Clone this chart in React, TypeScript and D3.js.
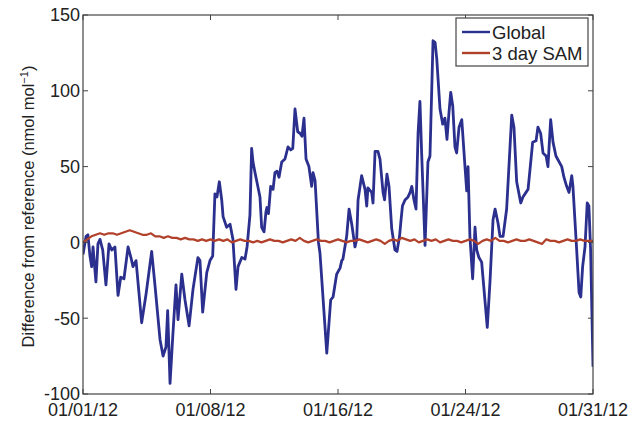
import React from "react";
import * as d3 from "d3";

// days since 01/01/12 00:00 and difference from reference (nmol/mol)
const globalDays = [
  0, 0.18, 0.29, 0.41, 0.51, 0.59, 0.76, 0.88, 1.0, 1.16, 1.35, 1.53, 1.69, 1.88,
  2.06, 2.22, 2.41, 2.65, 2.82, 2.94, 3.12, 3.45, 3.71, 4.04, 4.24, 4.53, 4.71,
  4.88, 4.98, 5.12, 5.28, 5.47, 5.59, 5.81, 6.0, 6.24, 6.47, 6.76, 6.88, 7.04,
  7.28, 7.47, 7.63, 7.76, 7.88, 8.02, 8.16, 8.24, 8.45, 8.65, 8.82, 9.0, 9.12,
  9.34, 9.53, 9.65, 9.82, 9.92, 10.0, 10.12, 10.41, 10.51, 10.65, 10.76, 10.82,
  10.91, 11.04, 11.18, 11.29, 11.41, 11.53, 11.69, 11.88, 12.06, 12.22, 12.34,
  12.47, 12.63, 12.76, 12.88, 13.0, 13.12, 13.29, 13.45, 13.53, 13.65, 13.85,
  13.94, 14.34, 14.57, 14.71, 14.92, 15.12, 15.22, 15.29, 15.51, 15.65, 15.81,
  16.0, 16.1, 16.18, 16.39, 16.59, 16.69, 16.76, 16.98, 17.06, 17.18, 17.35,
  17.47, 17.65, 17.74, 17.88, 18.0, 18.16, 18.35, 18.47, 18.62, 18.71, 18.79,
  18.94, 19.12, 19.24, 19.34, 19.47, 19.59, 19.71, 19.82, 19.92, 20.12, 20.29,
  20.41, 20.59, 20.71, 20.81, 21.0, 21.16, 21.29, 21.41, 21.53, 21.63, 21.75,
  21.88, 21.98, 22.12, 22.28, 22.47, 22.57, 22.65, 22.76, 22.92, 23.06, 23.16,
  23.29, 23.45, 23.78, 23.94, 24.12, 24.24, 24.41, 24.53, 24.71, 24.92, 25.22,
  25.35, 25.51, 25.75, 25.88, 26.06, 26.18, 26.45, 26.65, 26.76, 26.92, 27.06,
  27.24, 27.35, 27.51, 27.65, 27.82, 28.16, 28.29, 28.45, 28.59, 28.75, 28.82,
  29.04, 29.18, 29.28, 29.39, 29.53, 29.66, 29.76, 29.86, 30.0,
];
const globalDiff = [
  -8, 4, 5, -9, -16, -3, -26, -1, 2, -5, -28, -1, -5, -3,
  -35, -23, -24, -3, -10, -16, -12, -53, -34, -6, -29, -64, -75,
  -69, -45, -93, -62, -28, -51, -21, -38, -55, -31, -10, -12, -46,
  -20, -12, -9, 32, 30, 40, 28, 17, 10, 12, 2, -31, -16,
  -10, -11, -3, 18, 62, 53, 46, 30, 10, 7, 20, 23,
  19, 37, 35, 46, 47, 43, 53, 55, 63, 61, 62,
  88, 73, 72, 70, 82, 55, 50, 37, 46, 41, 0,
  -7, -73, -38, -36, -21, -17, -12, -11, 4, 22, 12,
  -3, 2, 28, 44, 35, 24, 36, 33, 26, 60, 60,
  55, 33, 28, 45, 37, 9, -5, -6, 4, 15, 24,
  28, 30, 33, 37, 28, 22, 72, 93, 59, -2, 53,
  57, 133, 132, 121, 88, 78, 82, 68, 86, 99, 90,
  63, 59, 76, 81, 50, 34, 50, 4, -24, 10, -5,
  -10, -13, -56, -26, 15, 22, 13, 4, 4, 22, 84,
  76, 40, 26, 30, 33, 35, 66, 67, 76, 72, 59,
  57, 50, 81, 66, 57, 50, 43, 37, 33, 44, 37,
  -5, -33, -36, -16, -3, 26, 24, -5, -82,
];

// 3 day SAM, every quarter day
const samDays = d3.range(0, 30.001, 0.25);
const samDiff = [
  0, 2, 4, 5, 6, 5, 6, 6, 5,
  6, 7, 8, 7, 6, 5, 5, 6,
  4, 4, 3, 4, 3, 3, 2, 3,
  2, 2, 1, 2, 1, 2, 1, 2,
  1, 2, 0, 1, 2, 1, 1, 0,
  1, 0, 1, 2, 1, 1, 0, 1,
  2, 1, 3, 1, 0, 1, 2, 1,
  1, 0, 1, 2, 1, 0, 1, 1,
  2, 1, 0, 1, 2, 1, -1, 1,
  2, 1, 3, 2, 1, 2, 0, 1,
  2, 1, 2, 0, 1, 2, 1, 1,
  0, 1, 2, 1, -1, 1, 2, 1,
  3, 1, 1, 0, 1, 2, 1, 1,
  2, 1, 0, -1, 2, 1, 1, 0,
  1, 2, 1, 1, 2, 1, 1, 1,
];

const yTicks = [-100, -50, 0, 50, 100, 150];
const xTicks = [0, 7.5, 15, 22.5, 30];
const xTickLabels = ["01/01/12", "01/08/12", "01/16/12", "01/24/12", "01/31/12"];
const seriesNames = ["Global", "3 day SAM"];

const W = 633;
const H = 423;
const plot = { left: 83, right: 593, top: 15, bottom: 394 };
const blue = "#2b2f8e";
const red = "#b2412b";
const axisColor = "#444";
const font = "'Liberation Sans', Arial, Helvetica, sans-serif";

export default function App() {
  const x = d3.scaleLinear().domain([0, 30]).range([plot.left, plot.right]);
  const y = d3.scaleLinear().domain([-100, 150]).range([plot.bottom, plot.top]);

  const globalPath = d3
    .line<number>()
    .x((d) => x(d))
    .y((_, i) => y(globalDiff[i]))(globalDays);
  const samPath = d3
    .line<number>()
    .x((d) => x(d))
    .y((_, i) => y(samDiff[i]))(samDays);

  const tickLen = 5;
  const legend = { x0: 456, x1: 588, y0: 18, y1: 66 };
  const legendRows = [32, 53];

  return (
    <svg
      width={W}
      height={H}
      style={{ position: "absolute", left: 0, top: 0, background: "#fff" }}
      fontFamily={font}
    >
      <defs>
        <clipPath id="plot-clip">
          <rect
            x={plot.left}
            y={plot.top}
            width={plot.right - plot.left}
            height={plot.bottom - plot.top}
          />
        </clipPath>
      </defs>

      <g clipPath="url(#plot-clip)" fill="none" strokeLinejoin="round">
        <path d={globalPath ?? ""} stroke={blue} strokeWidth={2.8} />
        <path d={samPath ?? ""} stroke={red} strokeWidth={2.2} />
      </g>

      {/* box */}
      <rect
        x={plot.left}
        y={plot.top}
        width={plot.right - plot.left}
        height={plot.bottom - plot.top}
        fill="none"
        stroke={axisColor}
        strokeWidth={1.2}
      />

      {/* y ticks */}
      {yTicks.map((t) => (
        <g key={"y" + t}>
          <line x1={plot.left} x2={plot.left + tickLen} y1={y(t)} y2={y(t)} stroke={axisColor} />
          <line x1={plot.right} x2={plot.right - tickLen} y1={y(t)} y2={y(t)} stroke={axisColor} />
          <text
            x={plot.left - 3}
            y={y(t)}
            dy="0.36em"
            textAnchor="end"
            fontSize={18}
            fill="#222"
          >
            {t}
          </text>
        </g>
      ))}

      {/* x ticks */}
      {xTicks.map((t, i) => (
        <g key={"x" + t}>
          <line x1={x(t)} x2={x(t)} y1={plot.bottom} y2={plot.bottom - tickLen} stroke={axisColor} />
          <line x1={x(t)} x2={x(t)} y1={plot.top} y2={plot.top + tickLen} stroke={axisColor} />
          <text x={x(t)} y={plot.bottom + 22} textAnchor="middle" fontSize={18} fill="#222">
            {xTickLabels[i]}
          </text>
        </g>
      ))}

      {/* y label */}
      <text
        transform={`translate(34,${(plot.top + plot.bottom) / 2 + 2}) rotate(-90)`}
        textAnchor="middle"
        fontSize={16.5}
        fill="#222"
      >
        Difference from reference (nmol mol
        <tspan dy="-6" fontSize={11}>−1</tspan>
        <tspan dy="6">)</tspan>
      </text>

      {/* legend */}
      <rect
        x={legend.x0}
        y={legend.y0}
        width={legend.x1 - legend.x0}
        height={legend.y1 - legend.y0}
        fill="#fff"
        stroke={axisColor}
        strokeWidth={1.2}
      />
      {seriesNames.map((name, i) => (
        <g key={name}>
          <line
            x1={462}
            x2={490}
            y1={legendRows[i]}
            y2={legendRows[i]}
            stroke={i === 0 ? blue : red}
            strokeWidth={2.4}
          />
          <text x={492} y={legendRows[i]} dy="0.36em" fontSize={18.5} fill="#222">
            {name}
          </text>
        </g>
      ))}
    </svg>
  );
}
